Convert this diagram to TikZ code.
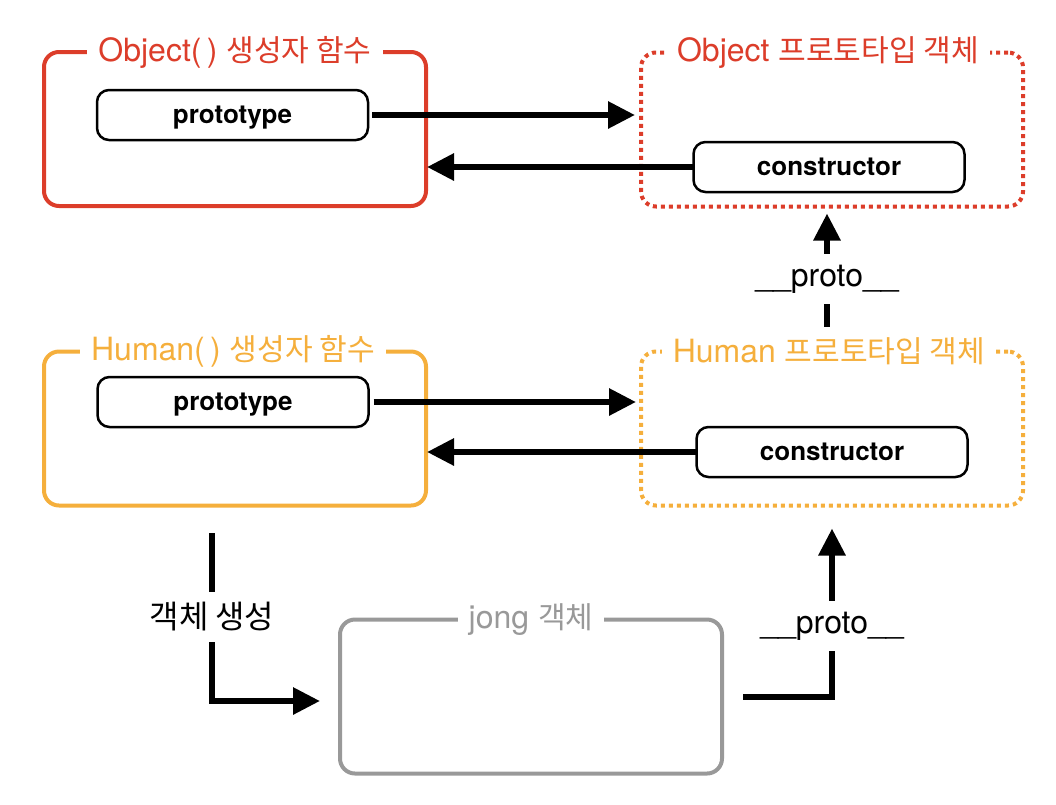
\documentclass[tikz,border=0pt]{standalone}
\usepackage{fontspec}
\setmainfont{TeX Gyre Heros}
\newfontfamily\kr[Scale=0.94]{Noto Sans CJK KR}
\usepackage{xcolor}
\usepackage{tikz}
\usetikzlibrary{positioning, calc, arrows.meta}

\definecolor{objred}{HTML}{DC3D2A}
\definecolor{humorange}{HTML}{F5AF3C}
\definecolor{jonggray}{HTML}{999999}

\tikzset{
  group/.style={draw, line width=4pt, rounded corners=15pt, outer sep=0pt,
    minimum width=382pt, minimum height=154pt},
  dotgroup/.style={group, dash pattern=on 4pt off 4pt},
  grouptitle/.style={fill=white, inner xsep=11pt, inner ysep=2pt, outer sep=0pt,
    font=\fontsize{32}{38}\selectfont},
  field/.style={draw, line width=2.5pt, rounded corners=12pt, outer sep=0pt,
    minimum width=271pt, minimum height=50pt, text depth=0pt,
    font=\fontsize{26}{30}\selectfont\bfseries},
  link/.style={line width=6pt, -{Triangle[length=27pt,width=26pt]}},
  linklabel/.style={fill=white, inner xsep=4pt, inner ysep=11pt,
    font=\fontsize{32}{38}\selectfont}
}

\begin{document}
\begin{tikzpicture}[x=1pt, y=-1pt]
  \useasboundingbox (0,0) rectangle (1056,804);

  % Object constructor and its prototype
  \node[group, draw=objred] (objFn) at (235,129) {};
  \node[grouptitle, text=objred] (objFnTitle) at (objFn.north) {Object(\,) {\kr 생성자 함수}};
  \node[field] (objField) at (232.5,115) {prototype};

  \node[dotgroup, draw=objred] (objProto) at (832,129.5) {};
  \node[grouptitle, text=objred] (objProtoTitle) at ($(objProto.north)+(-4,0)$) {Object {\kr 프로토타입 객체}};
  \node[field] (objCons) at (829,167) {constructor};

  % Human constructor and its prototype
  \node[group, draw=humorange] (humFn) at (235,428.5) {};
  \node[grouptitle, text=humorange] (humFnTitle) at ($(humFn.north)+(-2,0)$) {Human(\,) {\kr 생성자 함수}};
  \node[field] (humField) at (233,402) {prototype};

  \node[dotgroup, draw=humorange] (humProto) at (832,428.5) {};
  \node[grouptitle, text=humorange] (humProtoTitle) at ($(humProto.north)+(-3,0)$) {Human {\kr 프로토타입 객체}};
  \node[field] (humCons) at (832,452) {constructor};

  % instance
  \node[group, draw=jonggray] (jong) at (531,696.5) {};
  \node[grouptitle, text=jonggray] (jongTitle) at (jong.north) {jong {\kr 객체}};

  % prototype <-> constructor links
  \draw[link, shorten <=4pt, shorten >=6pt] (objField.east) -- (objField.east -| objProto.west);
  \draw[link, shorten >=1pt] (objCons.west) -- (objCons.west -| objFn.east);
  \draw[link, shorten <=5pt, shorten >=5pt] (humField.east) -- (humField.east -| humProto.west);
  \draw[link, shorten >=1pt] (humCons.west) -- (humCons.west -| humFn.east);

  % prototype chain
  \draw[link, shorten <=25pt, shorten >=7pt] ($(humProto.north)+(-5,0)$) --
    node[linklabel, pos=0.5] (chainUp) {\_\_proto\_\_} ($(objProto.south)+(-5,0)$);
  \draw[link, shorten <=21pt, shorten >=23pt] (jong.east) -|
    node[linklabel, pos=0.684] (chainDown) {\_\_proto\_\_} (humProto.south);

  % object creation
  \coordinate (newStart) at (212,533);
  \draw[link, shorten >=20pt] (newStart) |-
    node[linklabel, pos=0.25, font=\fontsize{34}{40}\selectfont] (newLabel) {\kr 객체 생성} ($(jong.west)+(0,4.5)$);
\end{tikzpicture}
\end{document}
